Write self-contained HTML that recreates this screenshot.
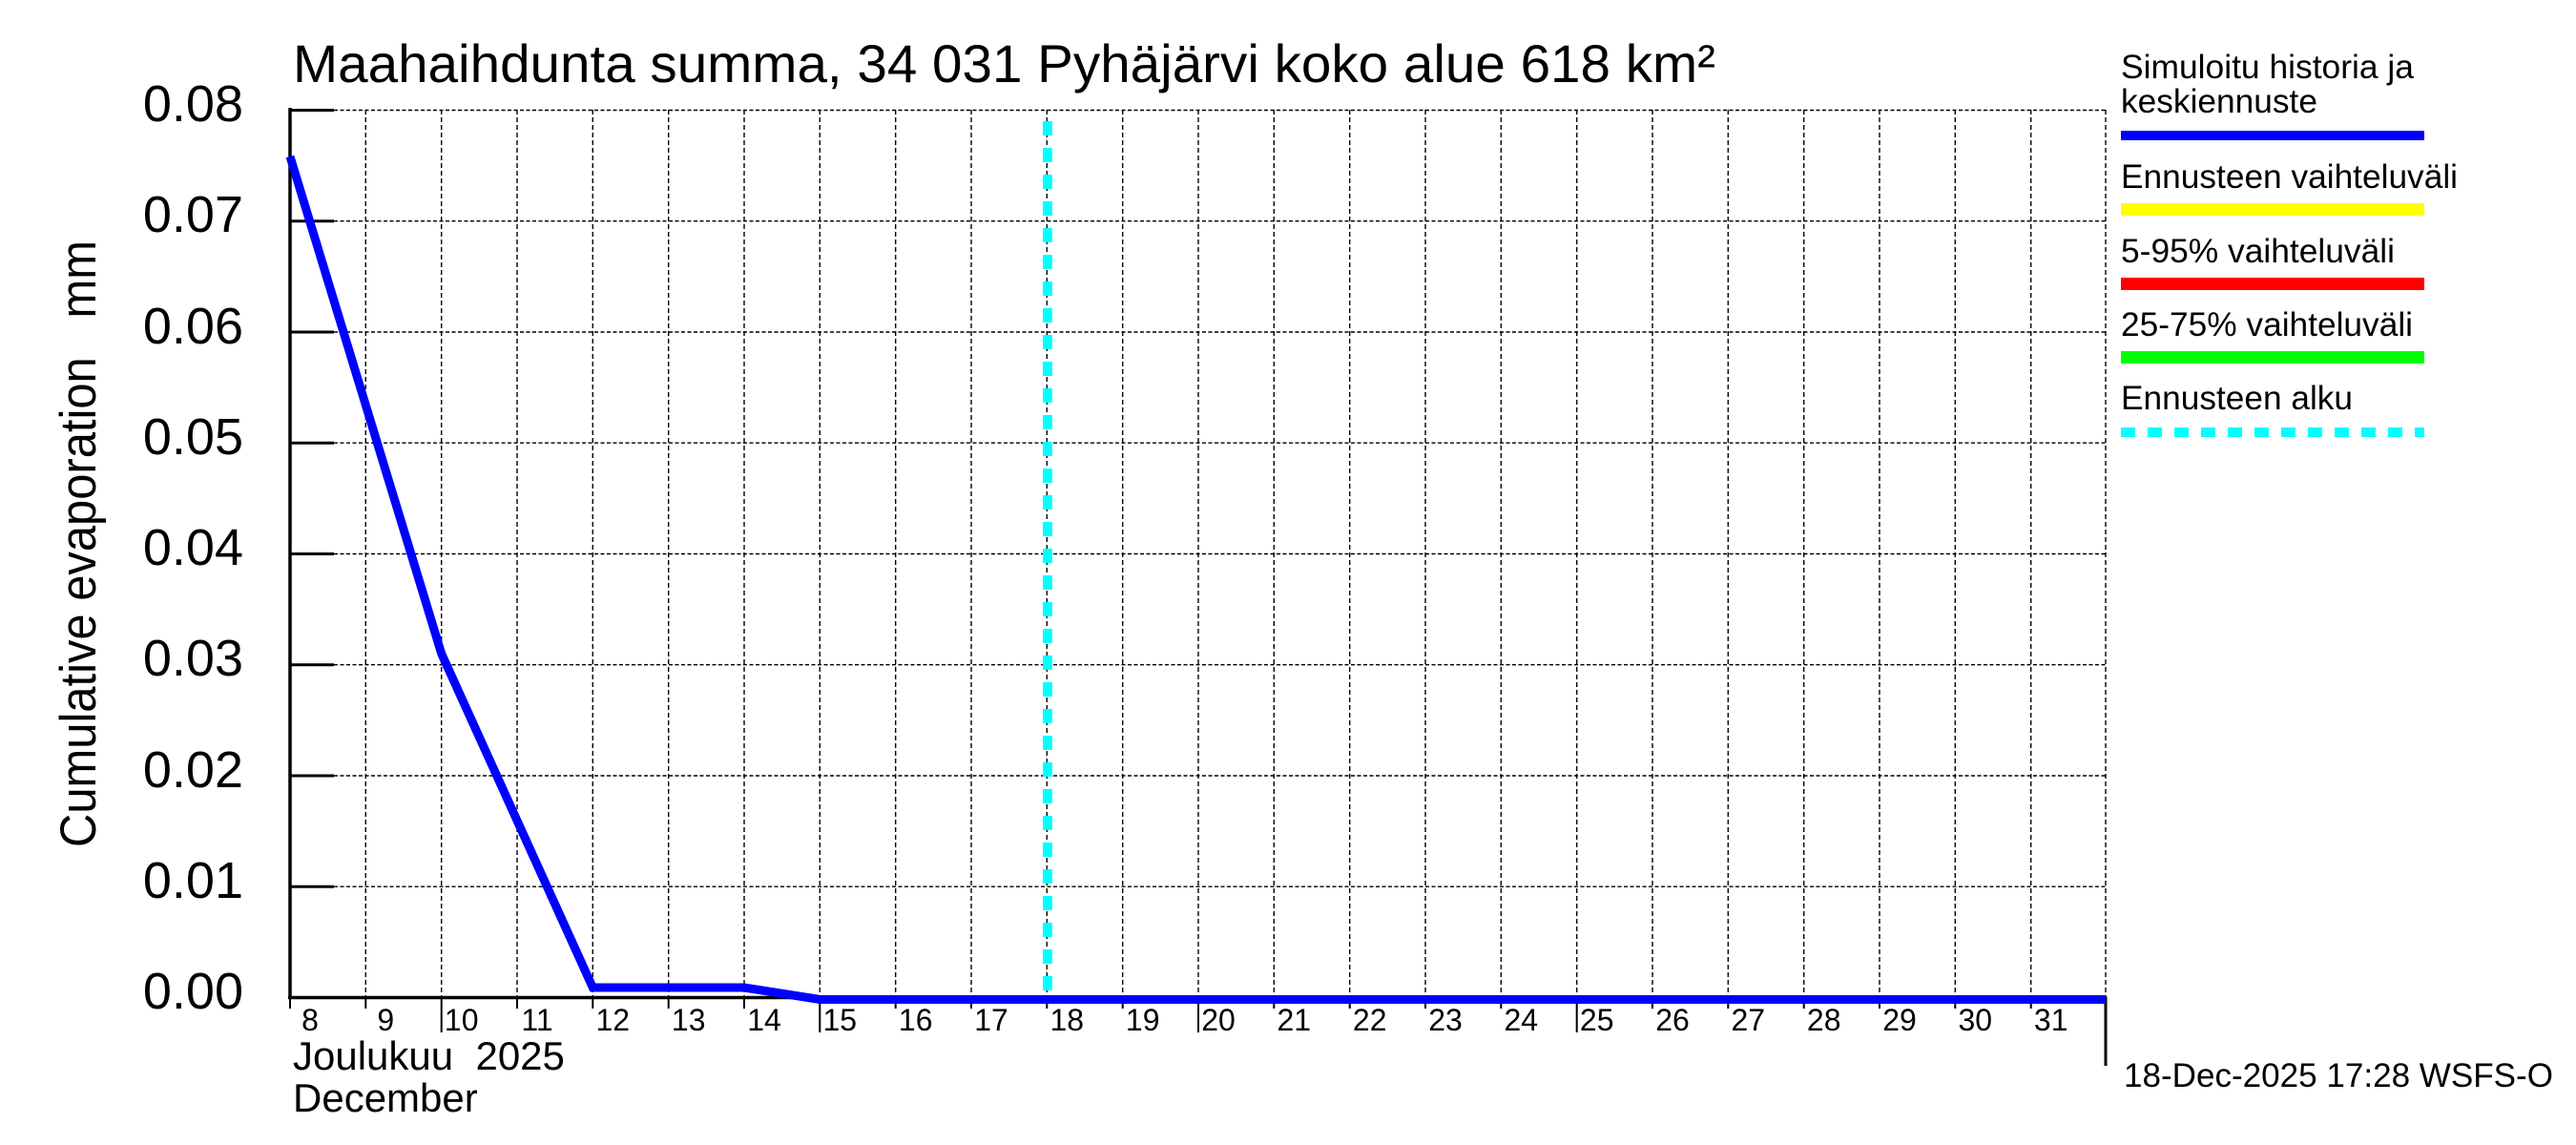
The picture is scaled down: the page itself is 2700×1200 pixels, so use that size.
<!DOCTYPE html>
<html><head><meta charset="utf-8"><style>
html,body{margin:0;padding:0;background:#fff;}
svg{display:block;}
text{font-family:"Liberation Sans",Arial,sans-serif;fill:#000;}
</style></head><body>
<svg width="2700" height="1200" viewBox="0 0 2700 1200" xmlns="http://www.w3.org/2000/svg">
<rect width="2700" height="1200" fill="#fff"/>
<!-- title -->
<text x="307" y="86" font-size="56" textLength="1491" lengthAdjust="spacingAndGlyphs">Maahaihdunta summa, 34 031 Pyhäjärvi koko alue 618 km²</text>
<!-- horizontal gridlines -->
<g stroke="#000" stroke-width="1.4" stroke-dasharray="4,2.5" fill="none">
<line x1="350" y1="115.5" x2="2207" y2="115.5"/>
<line x1="350" y1="231.7" x2="2207" y2="231.7"/>
<line x1="350" y1="348" x2="2207" y2="348"/>
<line x1="350" y1="464.2" x2="2207" y2="464.2"/>
<line x1="350" y1="580.5" x2="2207" y2="580.5"/>
<line x1="350" y1="696.7" x2="2207" y2="696.7"/>
<line x1="350" y1="813" x2="2207" y2="813"/>
<line x1="350" y1="929.2" x2="2207" y2="929.2"/>
</g>
<!-- vertical gridlines -->
<g stroke="#000" stroke-width="1.4" stroke-dasharray="5,3" fill="none">
<line x1="383.3" y1="115" x2="383.3" y2="1045"/>
<line x1="462.7" y1="115" x2="462.7" y2="1045"/>
<line x1="542" y1="115" x2="542" y2="1045"/>
<line x1="621.3" y1="115" x2="621.3" y2="1045"/>
<line x1="700.7" y1="115" x2="700.7" y2="1045"/>
<line x1="780" y1="115" x2="780" y2="1045"/>
<line x1="859.3" y1="115" x2="859.3" y2="1045"/>
<line x1="938.7" y1="115" x2="938.7" y2="1045"/>
<line x1="1018" y1="115" x2="1018" y2="1045"/>
<line x1="1097.3" y1="115" x2="1097.3" y2="1045"/>
<line x1="1176.7" y1="115" x2="1176.7" y2="1045"/>
<line x1="1256" y1="115" x2="1256" y2="1045"/>
<line x1="1335.3" y1="115" x2="1335.3" y2="1045"/>
<line x1="1414.7" y1="115" x2="1414.7" y2="1045"/>
<line x1="1494" y1="115" x2="1494" y2="1045"/>
<line x1="1573.3" y1="115" x2="1573.3" y2="1045"/>
<line x1="1652.7" y1="115" x2="1652.7" y2="1045"/>
<line x1="1732" y1="115" x2="1732" y2="1045"/>
<line x1="1811.3" y1="115" x2="1811.3" y2="1045"/>
<line x1="1890.7" y1="115" x2="1890.7" y2="1045"/>
<line x1="1970" y1="115" x2="1970" y2="1045"/>
<line x1="2049.3" y1="115" x2="2049.3" y2="1045"/>
<line x1="2128.7" y1="115" x2="2128.7" y2="1045"/>
<line x1="2207" y1="115" x2="2207" y2="1045"/>
</g>
<!-- forecast start line -->
<line x1="1098" y1="127" x2="1098" y2="1045" stroke="#00ffff" stroke-width="10" stroke-dasharray="15,13"/>
<!-- axes -->
<g stroke="#000" fill="none">
<line x1="304" y1="113" x2="304" y2="1047" stroke-width="3.5"/>
<line x1="302" y1="1045.5" x2="2208" y2="1045.5" stroke-width="3.5"/>
<g stroke-width="3">
<line x1="304" y1="115.5" x2="350" y2="115.5"/>
<line x1="304" y1="231.7" x2="350" y2="231.7"/>
<line x1="304" y1="348" x2="350" y2="348"/>
<line x1="304" y1="464.2" x2="350" y2="464.2"/>
<line x1="304" y1="580.5" x2="350" y2="580.5"/>
<line x1="304" y1="696.7" x2="350" y2="696.7"/>
<line x1="304" y1="813" x2="350" y2="813"/>
<line x1="304" y1="929.2" x2="350" y2="929.2"/>
</g>
<g stroke-width="2">
<line x1="304" y1="1045" x2="304" y2="1057"/>
<line x1="383.3" y1="1045" x2="383.3" y2="1057"/>
<line x1="462.7" y1="1045" x2="462.7" y2="1082"/>
<line x1="542" y1="1045" x2="542" y2="1057"/>
<line x1="621.3" y1="1045" x2="621.3" y2="1057"/>
<line x1="700.7" y1="1045" x2="700.7" y2="1057"/>
<line x1="780" y1="1045" x2="780" y2="1057"/>
<line x1="859.3" y1="1045" x2="859.3" y2="1082"/>
<line x1="938.7" y1="1045" x2="938.7" y2="1057"/>
<line x1="1018" y1="1045" x2="1018" y2="1057"/>
<line x1="1097.3" y1="1045" x2="1097.3" y2="1057"/>
<line x1="1176.7" y1="1045" x2="1176.7" y2="1057"/>
<line x1="1256" y1="1045" x2="1256" y2="1082"/>
<line x1="1335.3" y1="1045" x2="1335.3" y2="1057"/>
<line x1="1414.7" y1="1045" x2="1414.7" y2="1057"/>
<line x1="1494" y1="1045" x2="1494" y2="1057"/>
<line x1="1573.3" y1="1045" x2="1573.3" y2="1057"/>
<line x1="1652.7" y1="1045" x2="1652.7" y2="1082"/>
<line x1="1732" y1="1045" x2="1732" y2="1057"/>
<line x1="1811.3" y1="1045" x2="1811.3" y2="1057"/>
<line x1="1890.7" y1="1045" x2="1890.7" y2="1057"/>
<line x1="1970" y1="1045" x2="1970" y2="1057"/>
<line x1="2049.3" y1="1045" x2="2049.3" y2="1057"/>
<line x1="2128.7" y1="1045" x2="2128.7" y2="1057"/>
<line x1="2207" y1="1045" x2="2207" y2="1117" stroke-width="3"/>
</g>
</g>
<!-- series -->
<polyline points="304,164 383.3,424.5 462.7,685 542,860 621.3,1035 700.7,1035 780,1035 859.3,1047.5 2207,1047.5" fill="none" stroke="#0000ff" stroke-width="9" stroke-linejoin="miter"/>
<!-- y tick labels -->
<g font-size="54" text-anchor="end">
<text x="255" y="127">0.08</text>
<text x="255" y="243">0.07</text>
<text x="255" y="360">0.06</text>
<text x="255" y="476">0.05</text>
<text x="255" y="592">0.04</text>
<text x="255" y="708">0.03</text>
<text x="255" y="825">0.02</text>
<text x="255" y="941">0.01</text>
<text x="255" y="1057">0.00</text>
</g>
<!-- y label -->
<text transform="translate(100,570) rotate(-90)" font-size="53" text-anchor="middle" textLength="636" lengthAdjust="spacingAndGlyphs" xml:space="preserve">Cumulative evaporation   mm</text>
<!-- x tick labels -->
<g font-size="32" text-anchor="middle">
<text x="325" y="1080">8</text>
<text x="404.3" y="1080">9</text>
<text x="483.7" y="1080">10</text>
<text x="563" y="1080">11</text>
<text x="642.3" y="1080">12</text>
<text x="721.7" y="1080">13</text>
<text x="801" y="1080">14</text>
<text x="880.3" y="1080">15</text>
<text x="959.7" y="1080">16</text>
<text x="1039" y="1080">17</text>
<text x="1118.3" y="1080">18</text>
<text x="1197.7" y="1080">19</text>
<text x="1277" y="1080">20</text>
<text x="1356.3" y="1080">21</text>
<text x="1435.7" y="1080">22</text>
<text x="1515" y="1080">23</text>
<text x="1594.3" y="1080">24</text>
<text x="1673.7" y="1080">25</text>
<text x="1753" y="1080">26</text>
<text x="1832.3" y="1080">27</text>
<text x="1911.7" y="1080">28</text>
<text x="1991" y="1080">29</text>
<text x="2070.3" y="1080">30</text>
<text x="2149.7" y="1080">31</text>
</g>
<text x="307" y="1121" font-size="42" xml:space="preserve">Joulukuu  2025</text>
<text x="307" y="1165" font-size="42">December</text>
<!-- legend -->
<g font-size="35">
<text x="2223" y="82" textLength="307" lengthAdjust="spacingAndGlyphs">Simuloitu historia ja</text>
<text x="2223" y="118" textLength="206" lengthAdjust="spacingAndGlyphs">keskiennuste</text>
<text x="2223" y="197" textLength="353" lengthAdjust="spacingAndGlyphs">Ennusteen vaihteluväli</text>
<text x="2223" y="275" textLength="287" lengthAdjust="spacingAndGlyphs">5-95% vaihteluväli</text>
<text x="2223" y="352" textLength="306" lengthAdjust="spacingAndGlyphs">25-75% vaihteluväli</text>
<text x="2223" y="429" textLength="243" lengthAdjust="spacingAndGlyphs">Ennusteen alku</text>
</g>
<rect x="2223" y="137" width="318" height="10" fill="#0000ff"/>
<rect x="2223" y="213" width="318" height="13" fill="#ffff00"/>
<rect x="2223" y="291" width="318" height="13" fill="#ff0000"/>
<rect x="2223" y="368" width="318" height="13" fill="#00ff00"/>
<line x1="2223" y1="453" x2="2541" y2="453" stroke="#00ffff" stroke-width="10" stroke-dasharray="15,13"/>
<!-- footer -->
<text x="2226" y="1139" font-size="35" textLength="450" lengthAdjust="spacingAndGlyphs">18-Dec-2025 17:28 WSFS-O</text>
</svg>
</body></html>
